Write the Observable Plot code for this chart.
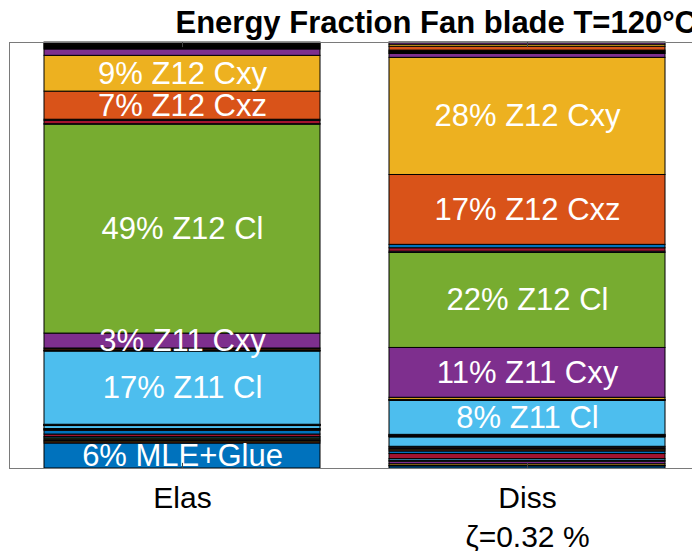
<!DOCTYPE html>
<html><head><meta charset="utf-8">
<script src="https://cdn.jsdelivr.net/npm/d3@7"></script>
<script src="https://cdn.jsdelivr.net/npm/@observablehq/plot@0.6"></script>
<style>html,body{margin:0;padding:0;background:#fff;overflow:hidden;}</style>
</head><body><div id="chart"></div>
<script>
// Bars (categories)
const bars = ["Elas", "Diss"];
// MATLAB default colour order, cycled over the series
const palette = ["#0072BD", "#D95319", "#EDB120", "#7E2F8E", "#77AC30", "#4DBEEE", "#A2142F"];
// Energy fraction per series (%), series 1..39, bottom to top
const elasValues = [5.87, 0.3, 0.3, 0.3, 0.3, 0.3, 0.6, 0.9, 0.1, 0.1, 0.1, 0.1, 0.7,
  0.05, 0.05, 0.05, 0.05, 0.05, 0.05, 17.2, 0.05, 0.05, 0.35, 0.25, 3.5, 49.05,
  0.1, 0.8, 0.25, 6.6, 8.4, 1.5, 0.23, 0.23, 0.23, 0.23, 0.23, 0.23, 0.23];
const dissValues = [0.5, 0.1, 0.4, 0.6, 0.2, 0.4, 1.2, 0.6, 0.3, 0.3, 0.3, 0.2, 2.2,
  0.1, 0.1, 0.1, 0.1, 0.1, 0.1, 8.0, 0.05, 0.05, 0.1, 0.5, 11.7, 22.3,
  0.3, 0.8, 0.8, 16.4, 27.5, 0.9, 0.2, 0.2, 0.2, 0.2, 0.9, 0.5, 0.5];
// Labelled series
const labelSeries = [1, 20, 25, 26, 30, 31];
const labelNames = ["MLE+Glue", "Z11 Cl", "Z11 Cxy", "Z12 Cl", "Z12 Cxz", "Z12 Cxy"];
const elasPercent = [6, 17, 3, 49, 7, 9];
const dissPercent = [null, 8, 11, 22, 17, 28];
const titleText = "Energy Fraction Fan blade T=120°C";
const dampingText = "ζ=0.32 %";

const rows = [];
bars.forEach((bar, b) => {
  const vals = b === 0 ? elasValues : dissValues;
  const pcts = b === 0 ? elasPercent : dissPercent;
  vals.forEach((v, i) => {
    const s = i + 1;
    const li = labelSeries.indexOf(s);
    const label = li >= 0 && pcts[li] != null ? `${pcts[li]}% ${labelNames[li]}` : null;
    rows.push({bar, series: s, value: v, color: palette[i % 7], label});
  });
});

const font = "'Liberation Sans', Arial, Helvetica, sans-serif";
const chart = Plot.plot({
  width: 692,
  height: 551,
  marginTop: 42,
  marginBottom: 83,
  marginLeft: 9,
  marginRight: -7,
  style: {fontFamily: font, background: "#fff", overflow: "visible"},
  x: {domain: bars, range: [9, 699], paddingInner: 0.2, paddingOuter: 0.1, axis: null},
  y: {domain: [0, 100], axis: null},
  color: {type: "identity"},
  marks: [
    Plot.barY(rows, Plot.stackY({x: "bar", y: "value", z: "series", fill: "color", stroke: "#000", strokeWidth: 1})),
    Plot.text(rows, Plot.stackY({x: "bar", y: "value", z: "series", text: "label", fill: "#fff", fontSize: 31, lineAnchor: "middle"})),
    Plot.frame({stroke: "#7a7a7a", strokeWidth: 1}),
    Plot.ruleX(bars, {x: d => d, y1: 100, y2: 98.8, stroke: "#444", strokeWidth: 1}),
    Plot.ruleX(bars, {x: d => d, y1: 0, y2: 1.2, stroke: "#444", strokeWidth: 1}),
    Plot.text(bars, {x: d => d, frameAnchor: "bottom", dy: 39, lineAnchor: "bottom", text: d => d, fontSize: 30, fill: "#000"}),
    Plot.text([dampingText], {x: () => "Diss", frameAnchor: "bottom", dy: 78, lineAnchor: "bottom", text: d => d, fontSize: 30, fill: "#000"}),
    Plot.text([titleText], {frameAnchor: "top-left", dx: 166, dy: -10, lineAnchor: "bottom", textAnchor: "start", text: d => d, fontSize: 31, fontWeight: "bold", fill: "#000"})
  ]
});
document.getElementById("chart").appendChild(chart);
</script></body></html>
